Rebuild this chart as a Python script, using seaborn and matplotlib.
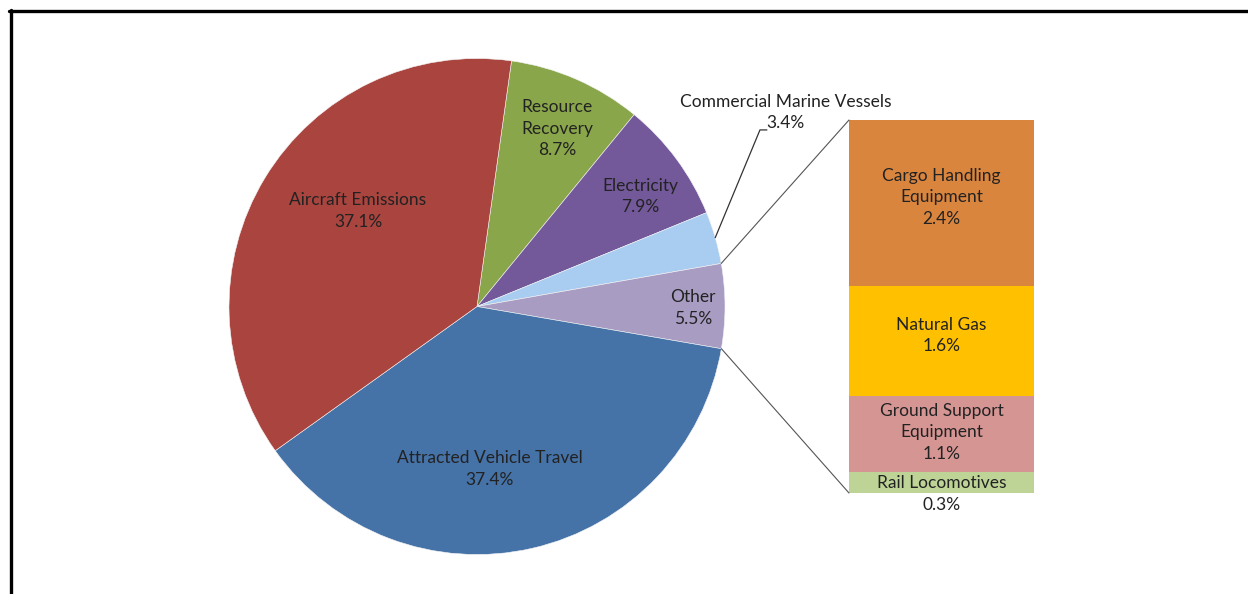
import numpy as np
import matplotlib
matplotlib.use("Agg")
import matplotlib.pyplot as plt
import seaborn as sns
from matplotlib.patches import ConnectionPatch
from matplotlib.lines import Line2D

sns.set_theme(style="white")
plt.rcParams['font.family'] = ['Lato', 'DejaVu Sans']

# Main pie: emission sources (percent of total)
categories = ["Resource Recovery", "Electricity", "Commercial Marine Vessels",
              "Other", "Attracted Vehicle Travel", "Aircraft Emissions"]
pie_labels = ["Resource\nRecovery", "Electricity", "Commercial Marine Vessels",
              "Other", "Attracted Vehicle Travel", "Aircraft Emissions"]
shares = [8.7, 7.9, 3.4, 5.5, 37.4, 37.1]
pie_colors = ["#8AA64A", "#73599A", "#A9CDF0", "#A89CC3", "#4572A7", "#A9443F"]

# Breakdown of the "Other" slice
other_parts = ["Cargo Handling Equipment", "Natural Gas",
               "Ground Support Equipment", "Rail Locomotives"]
other_labels = ["Cargo Handling\nEquipment", "Natural Gas",
                "Ground Support\nEquipment", "Rail Locomotives"]
other_shares = [2.4, 1.6, 1.1, 0.3]
other_colors = ["#D9853E", "#FFC000", "#D59593", "#BED497"]

TEXT = "#222222"
FS = 12.5
LS = 1.42

W, H = 1248, 594
fig = plt.figure(figsize=(W / 100, H / 100), dpi=100)
fig.patch.set_facecolor("white")

# Pie axes
cx, cy, R = 477, 306.5, 248
ax_pie = fig.add_axes([(cx - R) / W, (H - cy - R) / H, 2 * R / W, 2 * R / H])
wedges, _ = ax_pie.pie(shares, colors=pie_colors, startangle=82, counterclock=False,
                       radius=1, wedgeprops=dict(edgecolor="#F4F4F4", linewidth=0.4))
ax_pie.set_xlim(-1, 1)
ax_pie.set_ylim(-1, 1)
ax_pie.set_aspect("equal")
ax_pie.axis("off")

label_pos = {0: (0.323, 0.716), 1: (0.657, 0.444), 3: (0.871, -0.006),
             4: (0.052, -0.655), 5: (-0.480, 0.385)}
for i, (x, y) in label_pos.items():
    ax_pie.text(x, y, f"{pie_labels[i]}\n{shares[i]:.1f}%", ha="center", va="center",
                fontsize=FS, color=TEXT, linespacing=LS)

# Commercial Marine Vessels label with leader line
w = wedges[2]
theta = np.deg2rad((w.theta1 + w.theta2) / 2)
ax_pie.plot([np.cos(theta), 1.141, 1.169], [np.sin(theta), 0.712, 0.712],
            color="#333333", lw=0.9, clip_on=False)
ax_pie.text(1.245, 0.782, f"{pie_labels[2]}\n{shares[2]:.1f}%", ha="center", va="center",
            fontsize=FS, color=TEXT, linespacing=LS)

# Stacked bar for the "Other" breakdown
ax_bar = fig.add_axes([849 / W, (H - 493) / H, 185 / W, 373 / H])
cum = np.cumsum(other_shares[::-1])[::-1]
for i in range(len(other_shares)):
    sns.barplot(x=["Other"], y=[cum[i]], color=other_colors[i], width=1.0,
                saturation=1, linewidth=0, errorbar=None, ax=ax_bar)
ax_bar.set_xlim(-0.5, 0.5)
ax_bar.set_ylim(0, cum[0])
ax_bar.axis("off")

nudges = [0.08, 0.08, 0.03]
for i, (lbl, v) in enumerate(zip(other_labels, other_shares)):
    mid = cum[i] - v / 2
    if i == len(other_shares) - 1:
        ax_bar.text(0, mid, lbl, ha="center", va="center", fontsize=FS, color=TEXT)
        ax_bar.text(0, -0.17, f"{v:.1f}%", ha="center", va="center", fontsize=FS, color=TEXT)
    else:
        ax_bar.text(0, mid + nudges[i], f"{lbl}\n{v:.1f}%", ha="center", va="center",
                    fontsize=FS, color=TEXT, linespacing=LS)

# Connector lines from the "Other" slice to the bar
other_w = wedges[3]
for ang, ytop in ((other_w.theta2, cum[0]), (other_w.theta1, 0)):
    a = np.deg2rad(ang)
    con = ConnectionPatch(xyA=(np.cos(a), np.sin(a)), coordsA=ax_pie.transData,
                          xyB=(-0.5, ytop), coordsB=ax_bar.transData,
                          color="#555555", lw=0.8)
    fig.add_artist(con)

# Outer frame (top and left edges)
fig.add_artist(Line2D([9 / W, 1], [1 - 10.5 / H, 1 - 10.5 / H], color="black", lw=2.4,
                      transform=fig.transFigure))
fig.add_artist(Line2D([10.5 / W, 10.5 / W], [0, 1 - 9.5 / H], color="black", lw=2.4,
                      transform=fig.transFigure))

fig.savefig("out.png", dpi=100, facecolor="white")
